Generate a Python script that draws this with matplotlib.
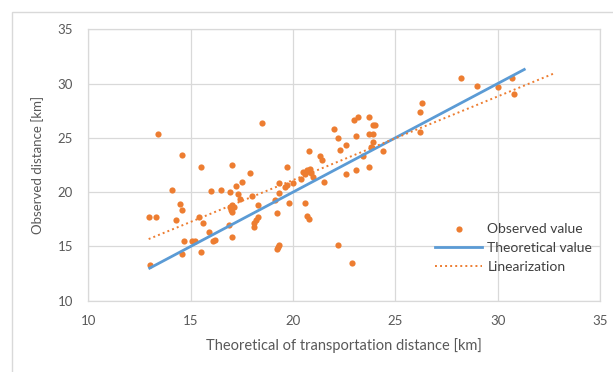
import matplotlib
matplotlib.use('Agg')
import matplotlib.pyplot as plt
import numpy as np
from matplotlib.patches import Rectangle

# observed points (theoretical km, observed km)
obs_x = [13.4, 18.5, 14.6, 15.5, 17.0, 17.9, 19.7, 14.1, 16.0, 16.5,
         16.9, 17.2, 17.5, 17.3, 17.4, 18.0, 19.3, 19.7, 20.0, 19.6,
         20.4, 19.3, 19.8, 19.1, 14.5, 14.6, 12.95, 13.3, 14.3, 15.4,
         15.6, 16.9, 17.0, 17.0, 17.1, 16.95, 18.3, 18.3, 18.2, 18.1,
         18.1, 16.85, 17.0, 15.9, 14.7, 15.05, 15.2, 16.1, 16.2, 14.6,
         15.5, 13.0, 19.2, 19.3, 19.2, 19.25,
         28.2, 29.0, 30.0, 30.7, 30.8, 26.3, 26.2, 26.2, 23.0, 23.2,
         23.7, 23.9, 24.0, 22.0, 22.2, 23.1, 23.7, 23.9, 23.9, 23.8,
         24.4, 22.6, 22.3, 23.4, 20.8, 21.3, 21.4, 20.5, 20.7, 20.85,
         20.6, 21.0, 20.9, 21.5, 22.6, 23.1, 23.7, 20.6, 20.7, 20.8,
         22.2, 22.9]
obs_y = [25.4, 26.4, 23.4, 22.3, 22.5, 21.8, 22.3, 20.2, 20.1, 20.2,
         20.0, 20.6, 20.9, 19.8, 19.4, 19.6, 20.8, 20.7, 20.8, 20.5,
         21.2, 19.9, 19.0, 19.3, 18.9, 18.4, 17.75, 17.75, 17.4, 17.7,
         17.2, 18.6, 18.8, 18.2, 18.6, 18.4, 18.8, 17.7, 17.4, 17.2,
         16.8, 16.95, 15.85, 16.35, 15.5, 15.5, 15.5, 15.5, 15.6, 14.3,
         14.45, 13.3, 18.1, 15.1, 14.75, 14.95,
         30.5, 29.8, 29.7, 30.5, 29.0, 28.2, 27.4, 25.5, 26.6, 26.9,
         26.9, 26.2, 26.2, 25.8, 25.0, 25.2, 25.4, 25.4, 24.6, 24.15,
         23.8, 24.3, 23.9, 23.35, 23.8, 23.3, 22.95, 21.9, 22.0, 22.15,
         21.7, 21.4, 21.8, 20.9, 21.7, 22.0, 22.3, 19.0, 17.8, 17.5,
         15.1, 13.5]

theory_x = [13.0, 31.3]
theory_y = [13.0, 31.3]

orange = '#ED7D31'
blue = '#5B9BD5'
grid_c = '#D9D9D9'
text_c = '#595959'

plt.rcParams['font.family'] = ['Lato', 'DejaVu Sans']
plt.rcParams['font.size'] = 9.5

fig = plt.figure(figsize=(6.13, 3.72), dpi=100)
fig.patch.set_facecolor('white')
fig.patches.append(Rectangle((11.5 / 613, -0.1), 1.2, 1 - 11.5 / 372 + 0.1,
                             transform=fig.transFigure, fill=False,
                             edgecolor=grid_c, lw=1.0))

ax = fig.add_axes([88.3 / 613, 1 - 300.7 / 372, (600 - 88.3) / 613, (300.7 - 29.3) / 372])

ax.scatter(obs_x, obs_y, s=20, color=orange, zorder=3, label='Observed value', linewidths=0)
ax.plot(theory_x, theory_y, color=blue, lw=2.0, zorder=4, label='Theoretical value')

# excel-style linear trendline, forecast forward 2 units
k, b = np.polyfit(obs_x, obs_y, 1)
tx = np.array([min(obs_x), max(obs_x) + 2])
ax.plot(tx, k * tx + b, color=orange, lw=1.4, ls=(0, (1, 1.6)), zorder=4, label='Linearization')

ax.set_xlim(10, 35)
ax.set_ylim(10, 35)
ax.set_xticks(range(10, 36, 5))
ax.set_yticks(range(10, 36, 5))
ax.grid(True, color=grid_c, lw=0.9)
ax.set_axisbelow(True)
for s in ax.spines.values():
    s.set_color(grid_c)
    s.set_linewidth(0.9)
ax.tick_params(length=0, colors=text_c, labelsize=9.5)
ax.tick_params(axis='y', pad=11)
ax.tick_params(axis='x', pad=10)

ax.set_xlabel('Theoretical of transportation distance [km]', color=text_c, fontsize=10.5, labelpad=8)
ax.set_ylabel('Observed distance [km]', color=text_c, fontsize=9.5, labelpad=10)

leg = ax.legend(loc='upper left', bbox_to_anchor=(0.678, 0.287), frameon=False,
                borderpad=0, handlelength=3.4, handletextpad=0.35, labelspacing=0.5,
                fontsize=10, borderaxespad=0)
for t in leg.get_texts():
    t.set_color('#404040')

fig.savefig('out.png', dpi=100)
